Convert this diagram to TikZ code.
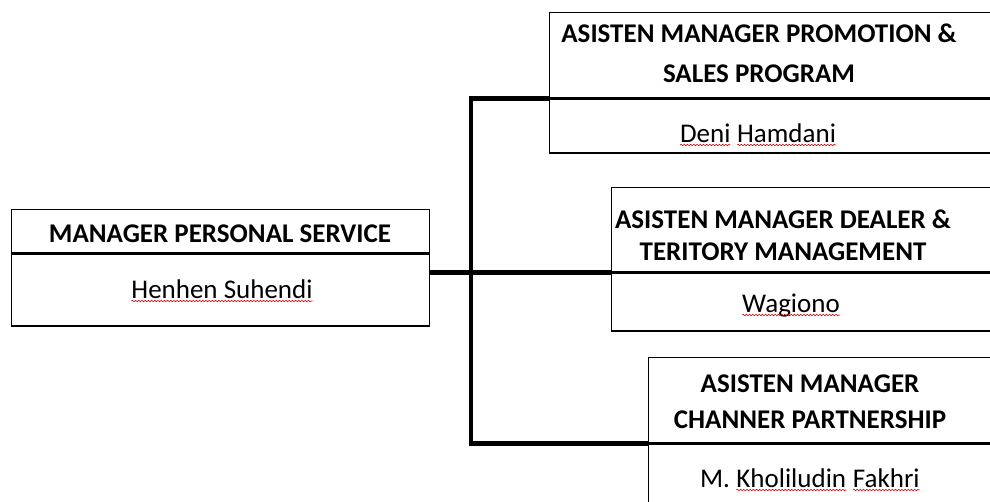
\documentclass[tikz,border=0pt]{standalone}
\usepackage{fontspec}
\setmainfont{Carlito}
\usetikzlibrary{decorations.pathmorphing}

\tikzset{
  box/.style={draw, line width=1.3pt, anchor=north west, inner sep=0pt},
  head/.style={font=\bfseries\fontsize{27}{36}\selectfont, align=center, inner sep=0pt},
  person/.style={font=\fontsize{27}{32}\selectfont, inner sep=0pt, anchor=base},
  link/.style={line width=4.6pt},
  wavy/.style={red!85!black, line width=0.6pt, decorate,
    decoration={snake, amplitude=0.7pt, segment length=3.2pt}}
}
% red spell-check wave under a word
\newcommand{\salah}[1]{\tikz[baseline=(w.base)]{\node[inner sep=0pt, outer sep=0pt] (w) {#1};
  \draw[wavy] ([yshift=-3pt]w.base west) -- ([yshift=-3pt]w.base east);}}

\begin{document}
\begin{tikzpicture}[x=1pt, y=-1pt]
    \useasboundingbox (0,0) rectangle (990,501);

    % manager
    \node[box, minimum width=418pt, minimum height=43pt] (mgr) at (11,209) {};
    \node[box, minimum width=418pt, minimum height=72pt] (mgrname) at (mgr.south west) {};
    \node[head] (mgrt) at (220,234) {MANAGER PERSONAL SERVICE};
    \node[person] (mgrn) at (222,298) {\salah{Henhen Suhendi}};

    % asisten promotion
    \node[box, minimum width=470pt, minimum height=85pt] (promo) at (549,12) {};
    \node[box, minimum width=470pt, minimum height=54pt] (promoname) at (promo.south west) {};
    \node[head, font=\bfseries\fontsize{27}{40}\selectfont] (promot) at (759,53) {ASISTEN MANAGER PROMOTION \&\\ SALES PROGRAM};
    \node[person] (promon) at (758,142) {\salah{Deni} \salah{Hamdani}};

    % asisten dealer
    \node[box, minimum width=410pt, minimum height=84pt] (dealer) at (611,187) {};
    \node[box, minimum width=410pt, minimum height=58pt] (dealername) at (dealer.south west) {};
    \node[head, font=\bfseries\fontsize{27}{32}\selectfont] (dealert) at (783,235) {ASISTEN MANAGER DEALER \&\\ TERITORY MANAGEMENT};
    \node[person] (dealern) at (791,312) {\salah{Wagiono}};

    % asisten channel
    \node[box, minimum width=370pt, minimum height=85pt] (chan) at (648,357) {};
    \node[box, minimum width=370pt, minimum height=70pt] (channame) at (chan.south west) {};
    \node[head] (chant) at (810,402) {ASISTEN MANAGER\\ CHANNER PARTNERSHIP};
    \node[person] (chann) at (810,487) {M. \salah{Kholiludin} \salah{Fakhri}};

    % garis
    \coordinate (trunk) at (471,0);
    \draw[link] (promo.south west) -| (trunk |- chan.south west) -- (chan.south west);
    \draw[link] (mgrname.east |- dealer.south west) -- (dealer.south west);
\end{tikzpicture}
\end{document}
